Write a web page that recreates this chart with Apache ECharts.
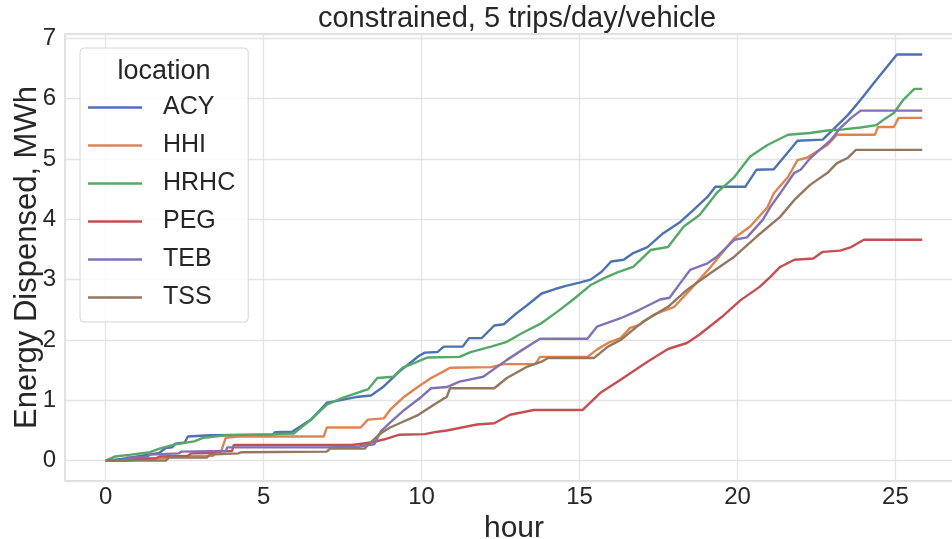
<!DOCTYPE html>
<html>
<head>
<meta charset="utf-8">
<script src="https://cdn.jsdelivr.net/npm/echarts@6/dist/echarts.min.js"></script>
<style>
html,body{margin:0;padding:0;background:#fff;}
#chart{width:952px;height:539px;}
</style>
</head>
<body>
<div id="chart"></div>
<script>
const chartTitle = 'constrained, 5 trips/day/vehicle';
const xName = 'hour';
const yName = 'Energy Dispensed, MWh';
const legendTitle = 'location';
const locations = ['ACY', 'HHI', 'HRHC', 'PEG', 'TEB', 'TSS'];
const colors = ['#4c72b0', '#dd8452', '#55a868', '#c44e52', '#8172b3', '#937860'];

const ACY = [[0,0],[0.5,0.03],[1.1,0.08],[1.7,0.13],[1.9,0.21],[2.1,0.22],[2.2,0.28],[2.5,0.3],[2.6,0.4],[3.3,0.42],[5.3,0.43],[5.35,0.47],[5.9,0.48],[6.5,0.68],[7.0,0.96],[7.4,1.0],[8.0,1.06],[8.4,1.08],[8.8,1.23],[9.3,1.48],[9.9,1.73],[10.1,1.79],[10.5,1.8],[10.7,1.89],[11.3,1.89],[11.5,2.03],[11.9,2.03],[12.3,2.24],[12.6,2.26],[13.0,2.44],[13.35,2.58],[13.8,2.77],[14.2,2.84],[14.6,2.9],[15.0,2.95],[15.35,3.0],[15.7,3.13],[16.0,3.3],[16.4,3.33],[16.7,3.44],[17.15,3.54],[17.65,3.77],[18.2,3.96],[18.6,4.15],[19.05,4.37],[19.3,4.54],[20.25,4.54],[20.6,4.82],[21.15,4.83],[21.9,5.30],[22.7,5.32],[23.5,5.73],[23.9,5.98],[24.4,6.31],[25.05,6.73],[25.85,6.73]];
const HHI = [[0,0],[0.8,0.0],[1.0,0.03],[1.9,0.04],[2.0,0.08],[3.4,0.08],[3.5,0.14],[3.65,0.15],[3.8,0.38],[4.2,0.4],[6.9,0.4],[7.0,0.55],[8.07,0.55],[8.3,0.68],[8.8,0.7],[9.0,0.84],[9.45,1.06],[9.9,1.23],[10.3,1.37],[10.7,1.48],[10.9,1.54],[12.2,1.55],[12.6,1.6],[13.6,1.6],[13.75,1.72],[15.25,1.72],[15.55,1.84],[15.9,1.95],[16.3,2.03],[16.6,2.2],[16.9,2.25],[17.35,2.42],[18.0,2.55],[18.5,2.83],[19.15,3.21],[19.9,3.69],[20.4,3.88],[20.95,4.2],[21.15,4.43],[21.6,4.7],[21.9,4.98],[22.2,5.02],[22.5,5.12],[22.85,5.23],[23.15,5.4],[24.35,5.4],[24.45,5.53],[24.95,5.53],[25.1,5.68],[25.85,5.68]];
const HRHC = [[0,0],[0.3,0.07],[0.8,0.1],[1.4,0.14],[1.7,0.2],[2.2,0.27],[2.8,0.32],[3.1,0.38],[3.8,0.42],[5.3,0.44],[5.95,0.45],[6.5,0.68],[7.0,0.93],[7.5,1.04],[8.1,1.15],[8.3,1.18],[8.6,1.37],[9.1,1.39],[9.4,1.54],[9.65,1.59],[10.0,1.67],[10.2,1.71],[11.2,1.72],[11.55,1.8],[12.2,1.89],[12.7,1.97],[13.2,2.12],[13.8,2.28],[14.3,2.47],[14.8,2.67],[15.35,2.91],[15.8,3.03],[16.2,3.12],[16.7,3.21],[17.25,3.49],[17.8,3.54],[18.3,3.88],[18.8,4.07],[19.35,4.44],[19.9,4.7],[20.4,5.04],[20.95,5.23],[21.25,5.31],[21.6,5.4],[22.3,5.43],[22.85,5.47],[23.35,5.49],[23.9,5.52],[24.4,5.56],[24.6,5.64],[24.95,5.76],[25.25,5.98],[25.6,6.16],[25.85,6.16]];
const PEG = [[0,0],[0.6,0.0],[0.8,0.02],[1.6,0.04],[1.7,0.07],[2.6,0.08],[2.7,0.12],[3.4,0.13],[3.5,0.15],[4.0,0.16],[4.05,0.26],[7.8,0.26],[8.4,0.3],[8.8,0.35],[9.3,0.43],[10.1,0.44],[10.5,0.48],[10.8,0.5],[11.75,0.6],[12.3,0.62],[12.8,0.76],[13.55,0.84],[15.1,0.84],[15.65,1.12],[16.3,1.34],[17.15,1.64],[17.8,1.85],[18.4,1.95],[18.8,2.09],[19.5,2.38],[20.1,2.66],[20.7,2.88],[21.05,3.05],[21.35,3.21],[21.8,3.33],[22.4,3.35],[22.7,3.46],[23.25,3.48],[23.6,3.54],[24.0,3.66],[25.85,3.66]];
const TEB = [[0,0],[0.6,0.0],[0.65,0.05],[1.3,0.06],[1.4,0.1],[2.3,0.12],[2.4,0.15],[3.8,0.16],[3.85,0.22],[7.0,0.22],[8.0,0.23],[8.3,0.26],[8.5,0.27],[8.7,0.48],[9.0,0.63],[9.45,0.84],[10.0,1.06],[10.3,1.2],[10.8,1.22],[11.2,1.31],[11.95,1.39],[12.7,1.67],[13.2,1.84],[13.75,2.02],[15.25,2.02],[15.55,2.22],[16.3,2.36],[16.9,2.5],[17.55,2.67],[17.85,2.7],[18.2,2.95],[18.5,3.16],[19.05,3.27],[19.35,3.38],[19.9,3.66],[20.3,3.7],[20.8,3.99],[21.05,4.21],[21.35,4.43],[21.8,4.77],[22.0,4.82],[22.3,5.01],[22.6,5.15],[22.95,5.31],[23.25,5.51],[23.6,5.68],[23.9,5.8],[25.85,5.8]];
const TSS = [[0,0],[1.9,0.0],[2.0,0.05],[3.2,0.05],[3.3,0.1],[4.2,0.12],[4.3,0.14],[7.0,0.15],[7.1,0.2],[8.2,0.2],[8.3,0.26],[8.7,0.45],[9.0,0.55],[9.9,0.76],[10.4,0.93],[10.8,1.06],[10.9,1.2],[12.3,1.2],[12.7,1.37],[13.35,1.56],[13.8,1.64],[14.0,1.7],[15.45,1.7],[15.9,1.89],[16.3,2.0],[17.0,2.3],[17.8,2.55],[18.4,2.83],[19.15,3.11],[19.9,3.38],[20.6,3.71],[21.35,4.04],[21.8,4.32],[22.3,4.57],[22.85,4.77],[23.15,4.93],[23.5,5.02],[23.75,5.15],[25.85,5.15]];

const seriesData = [ACY, HHI, HRHC, PEG, TEB, TSS];
const xMin = -1.29, xMax = 27.14;
const yMin = -0.337, yMax = 7.07;

const FONT = '"Liberation Sans", Arial, sans-serif';
const TXT = '#262626';

const chart = echarts.init(document.getElementById('chart'), null, {renderer: 'canvas'});
chart.setOption({
  animation: false,
  backgroundColor: '#ffffff',
  title: [
    {text: chartTitle, left: 517, top: 4, textAlign: 'center', padding: 0,
     textStyle: {fontFamily: FONT, fontSize: 29, fontWeight: 'normal', color: TXT}},
    {text: legendTitle, left: 164, top: 58, textAlign: 'center', padding: 0, z: 10,
     textStyle: {fontFamily: FONT, fontSize: 27, fontWeight: 'normal', color: TXT}}
  ],
  legend: {
    orient: 'vertical', left: 80, top: 48,
    data: locations,
    icon: 'rect',
    itemWidth: 54, itemHeight: 2.5, itemGap: 13,
    padding: [47, 13, 12, 8],
    backgroundColor: 'rgba(255,255,255,0.8)',
    borderColor: '#d6d6d6', borderWidth: 1, borderRadius: 4,
    textStyle: {fontFamily: FONT, fontSize: 25, color: TXT, lineHeight: 24, padding: [0, 0, 0, 16]}
  },
  grid: {left: 65, top: 34, right: -11, bottom: 58, outerBoundsMode: 'none', containLabel: false,
    show: true, borderColor: '#d2d2d2', borderWidth: 1.3, backgroundColor: 'transparent'},
  xAxis: {
    type: 'value', min: xMin, max: xMax, splitNumber: 5,
    name: xName, nameLocation: 'middle', nameGap: 27,
    nameTextStyle: {fontFamily: FONT, fontSize: 30, color: TXT},
    axisLine: {show: false}, axisTick: {show: false},
    axisLabel: {fontFamily: FONT, fontSize: 24, color: TXT, margin: 4, showMinLabel: false, showMaxLabel: false},
    splitLine: {show: true, lineStyle: {color: '#e4e4e4', width: 1.3}}
  },
  yAxis: {
    type: 'value', min: yMin, max: yMax, splitNumber: 7,
    name: yName, nameLocation: 'middle', nameGap: 22, nameMoveOverlap: false,
    nameTextStyle: {fontFamily: FONT, fontSize: 31, color: TXT},
    axisLine: {show: false}, axisTick: {show: false},
    axisLabel: {fontFamily: FONT, fontSize: 24, color: TXT, margin: 9, showMinLabel: false, showMaxLabel: false},
    splitLine: {show: true, lineStyle: {color: '#e4e4e4', width: 1.3}}
  },
  series: locations.map((name, i) => ({
    name: name, type: 'line', data: seriesData[i],
    symbol: 'none', showSymbol: false,
    color: colors[i],
    lineStyle: {color: colors[i], width: 2.4},
    itemStyle: {color: colors[i]},
    emphasis: {disabled: true}
  }))
});
</script>
</body>
</html>
